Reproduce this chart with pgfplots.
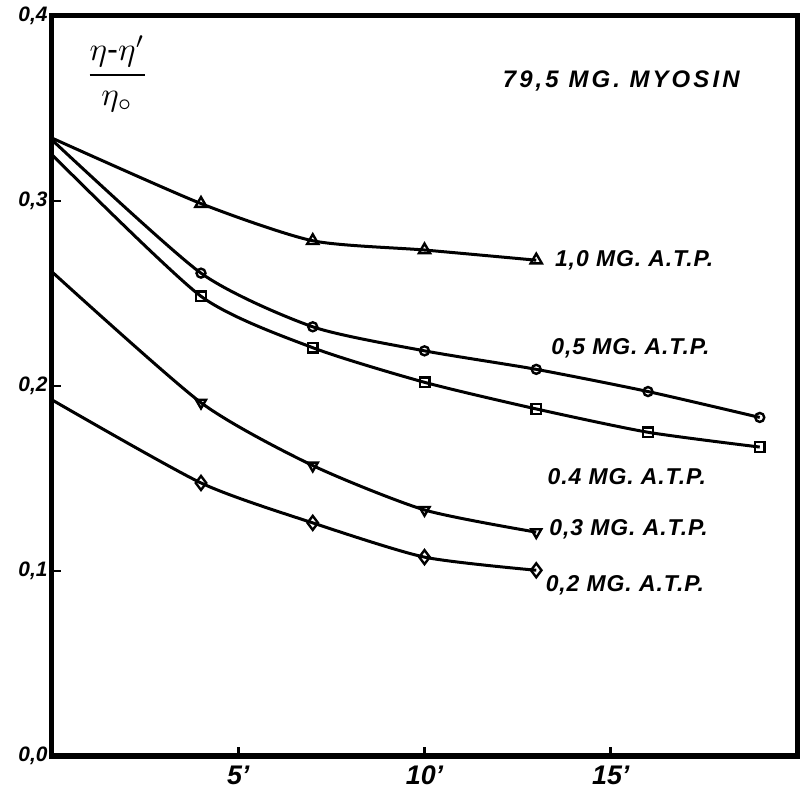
\documentclass[border=0pt]{standalone}
\usepackage{fontspec}
\setmainfont{Liberation Sans}
\usepackage{graphicx}
\usepackage{pgfplots}
\pgfplotsset{compat=1.18}
\begin{document}
\begin{tikzpicture}
\path[use as bounding box] (-52bp,-47bp) rectangle (755bp,756bp);
\begin{axis}[
  at={(0bp,0bp)}, anchor=south west,
  scale only axis, width=745bp, height=740bp,
  xmin=0, xmax=20, ymin=0, ymax=0.4,
  clip=false,
  axis line style={line width=5bp},
  xtick={5,10,15}, xticklabels={5',10',15'},
  ytick={0,0.1,0.2,0.3,0.4}, yticklabels={{0,0},{0,1},{0,2},{0,3},{0,4}},
  tick align=inside, xtick pos=bottom, ytick pos=left,
  major tick length=9bp, tick style={line width=2.8bp, black},
  xticklabel style={font=\fontsize{27}{27}\selectfont\bfseries\itshape, yshift=-6bp},
  yticklabel style={font=\fontsize{21}{21}\selectfont\bfseries\itshape, xshift=-1bp},
  every axis plot/.append style={line width=3bp, smooth, tension=0.4, black},
]
% 1.0 mg ATP
\addplot[mark=triangle, mark size=6.5bp, mark indices={2,3,4,5}, mark options={fill=white, line width=2.4bp}]
 coordinates {(0,0.334) (4,0.2986) (7,0.2785) (10,0.2735) (13,0.268)};
% 0.5 mg ATP
\addplot[mark=o, mark size=4.5bp, mark indices={2,3,4,5,6,7}, mark options={fill=white, line width=2.4bp}]
 coordinates {(0,0.333) (4,0.261) (7,0.232) (10,0.219) (13,0.209) (16,0.197) (19,0.183)};
% 0.4 mg ATP
\addplot[mark=square, mark size=4.8bp, mark indices={2,3,4,5,6,7}, mark options={fill=white, line width=2.4bp}]
 coordinates {(0,0.325) (4,0.2485) (7,0.2207) (10,0.202) (13,0.1876) (16,0.175) (19,0.167)};
% 0.3 mg ATP
\addplot[mark=triangle, mark size=5.8bp, mark indices={2,3,4,5}, mark options={fill=white, line width=2.4bp, rotate=180}]
 coordinates {(0,0.2617) (4,0.191) (7,0.157) (10,0.133) (13,0.121)};
% 0.2 mg ATP
\addplot[mark=diamond, mark size=7bp, mark indices={2,3,4,5}, mark options={fill=white, line width=2.4bp}]
 coordinates {(0,0.1925) (4,0.1476) (7,0.126) (10,0.1075) (13,0.1004)};

\begin{scope}[every node/.style={font=\fontsize{23}{23}\selectfont\bfseries\itshape\addfontfeature{LetterSpace=4}, anchor=west, inner sep=0pt}]
\node at (axis cs:13.5,0.268) {1,0 MG. A.T.P.};
\node at (axis cs:13.4,0.2204) {0,5 MG. A.T.P.};
\node at (axis cs:13.3,0.151) {0.4 MG. A.T.P.};
\node at (axis cs:13.35,0.1223) {0,3 MG. A.T.P.};
\node at (axis cs:13.25,0.0923) {0,2 MG. A.T.P.};
\end{scope}
\node[anchor=west, inner sep=0pt, font=\fontsize{24}{24}\selectfont\bfseries\itshape\addfontfeature{LetterSpace=13}] at (axis cs:12.1,0.365) {79,5 MG. MYOSIN};
\node[inner sep=0pt] at (axis cs:1.75,0.3686) {\scalebox{3.3}{$\displaystyle\frac{\eta\mbox{-}\eta'}{\eta_{\circ}}$}};
\end{axis}
\end{tikzpicture}
\end{document}
